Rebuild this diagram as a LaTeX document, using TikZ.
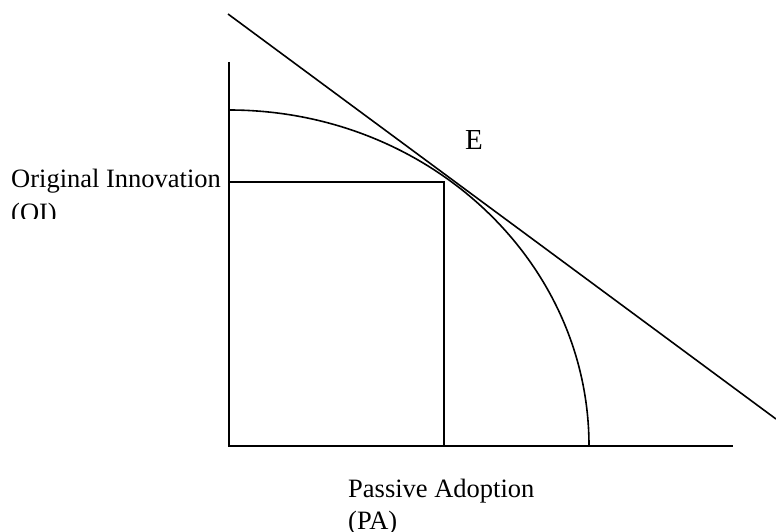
\documentclass[tikz,border=0pt]{standalone}
\usepackage{fontspec}
\setmainfont{Liberation Serif}
\begin{document}
\begin{tikzpicture}[x=1pt,y=1pt,
  ln/.style={line width=1.6pt,line cap=butt},
  lbl/.style={inner sep=0pt,anchor=base west,font=\fontsize{26.5}{30}\selectfont}]
\useasboundingbox (0,0) rectangle (776,531);
\coordinate (O) at (229,85);
\coordinate (Ytop) at (229,469);
\coordinate (Xend) at (733,85);
\coordinate (Cstart) at (229,421);
\coordinate (Lstart) at (228,517);
\coordinate (Lend) at (776,112);
\coordinate (E) at (444,349);
\coordinate (Ey) at (229,349);
\coordinate (Ex) at (444,85);
\draw[ln] (Ytop) -- (O) -- (Xend);
\draw[ln] (Cstart) arc[start angle=90,end angle=0,x radius=360,y radius=336];
\draw[ln] (Lstart) -- (Lend);
\draw[ln] (Ey) -- (E) -- (Ex);
\node[lbl] (oi) at (11,343) {Original Innovation};
\begin{scope}
\clip (0,313) rectangle (226,340);
\node[lbl] (oi2) at (11,309) {(OI)};
\end{scope}
\node[lbl] (pa) at (348,34) {Passive Adoption};
\node[lbl] (pa2) at (348,2) {(PA)};
\node[lbl,font=\fontsize{29}{32}\selectfont] (elbl) at (465,381) {E};
\end{tikzpicture}
\end{document}
